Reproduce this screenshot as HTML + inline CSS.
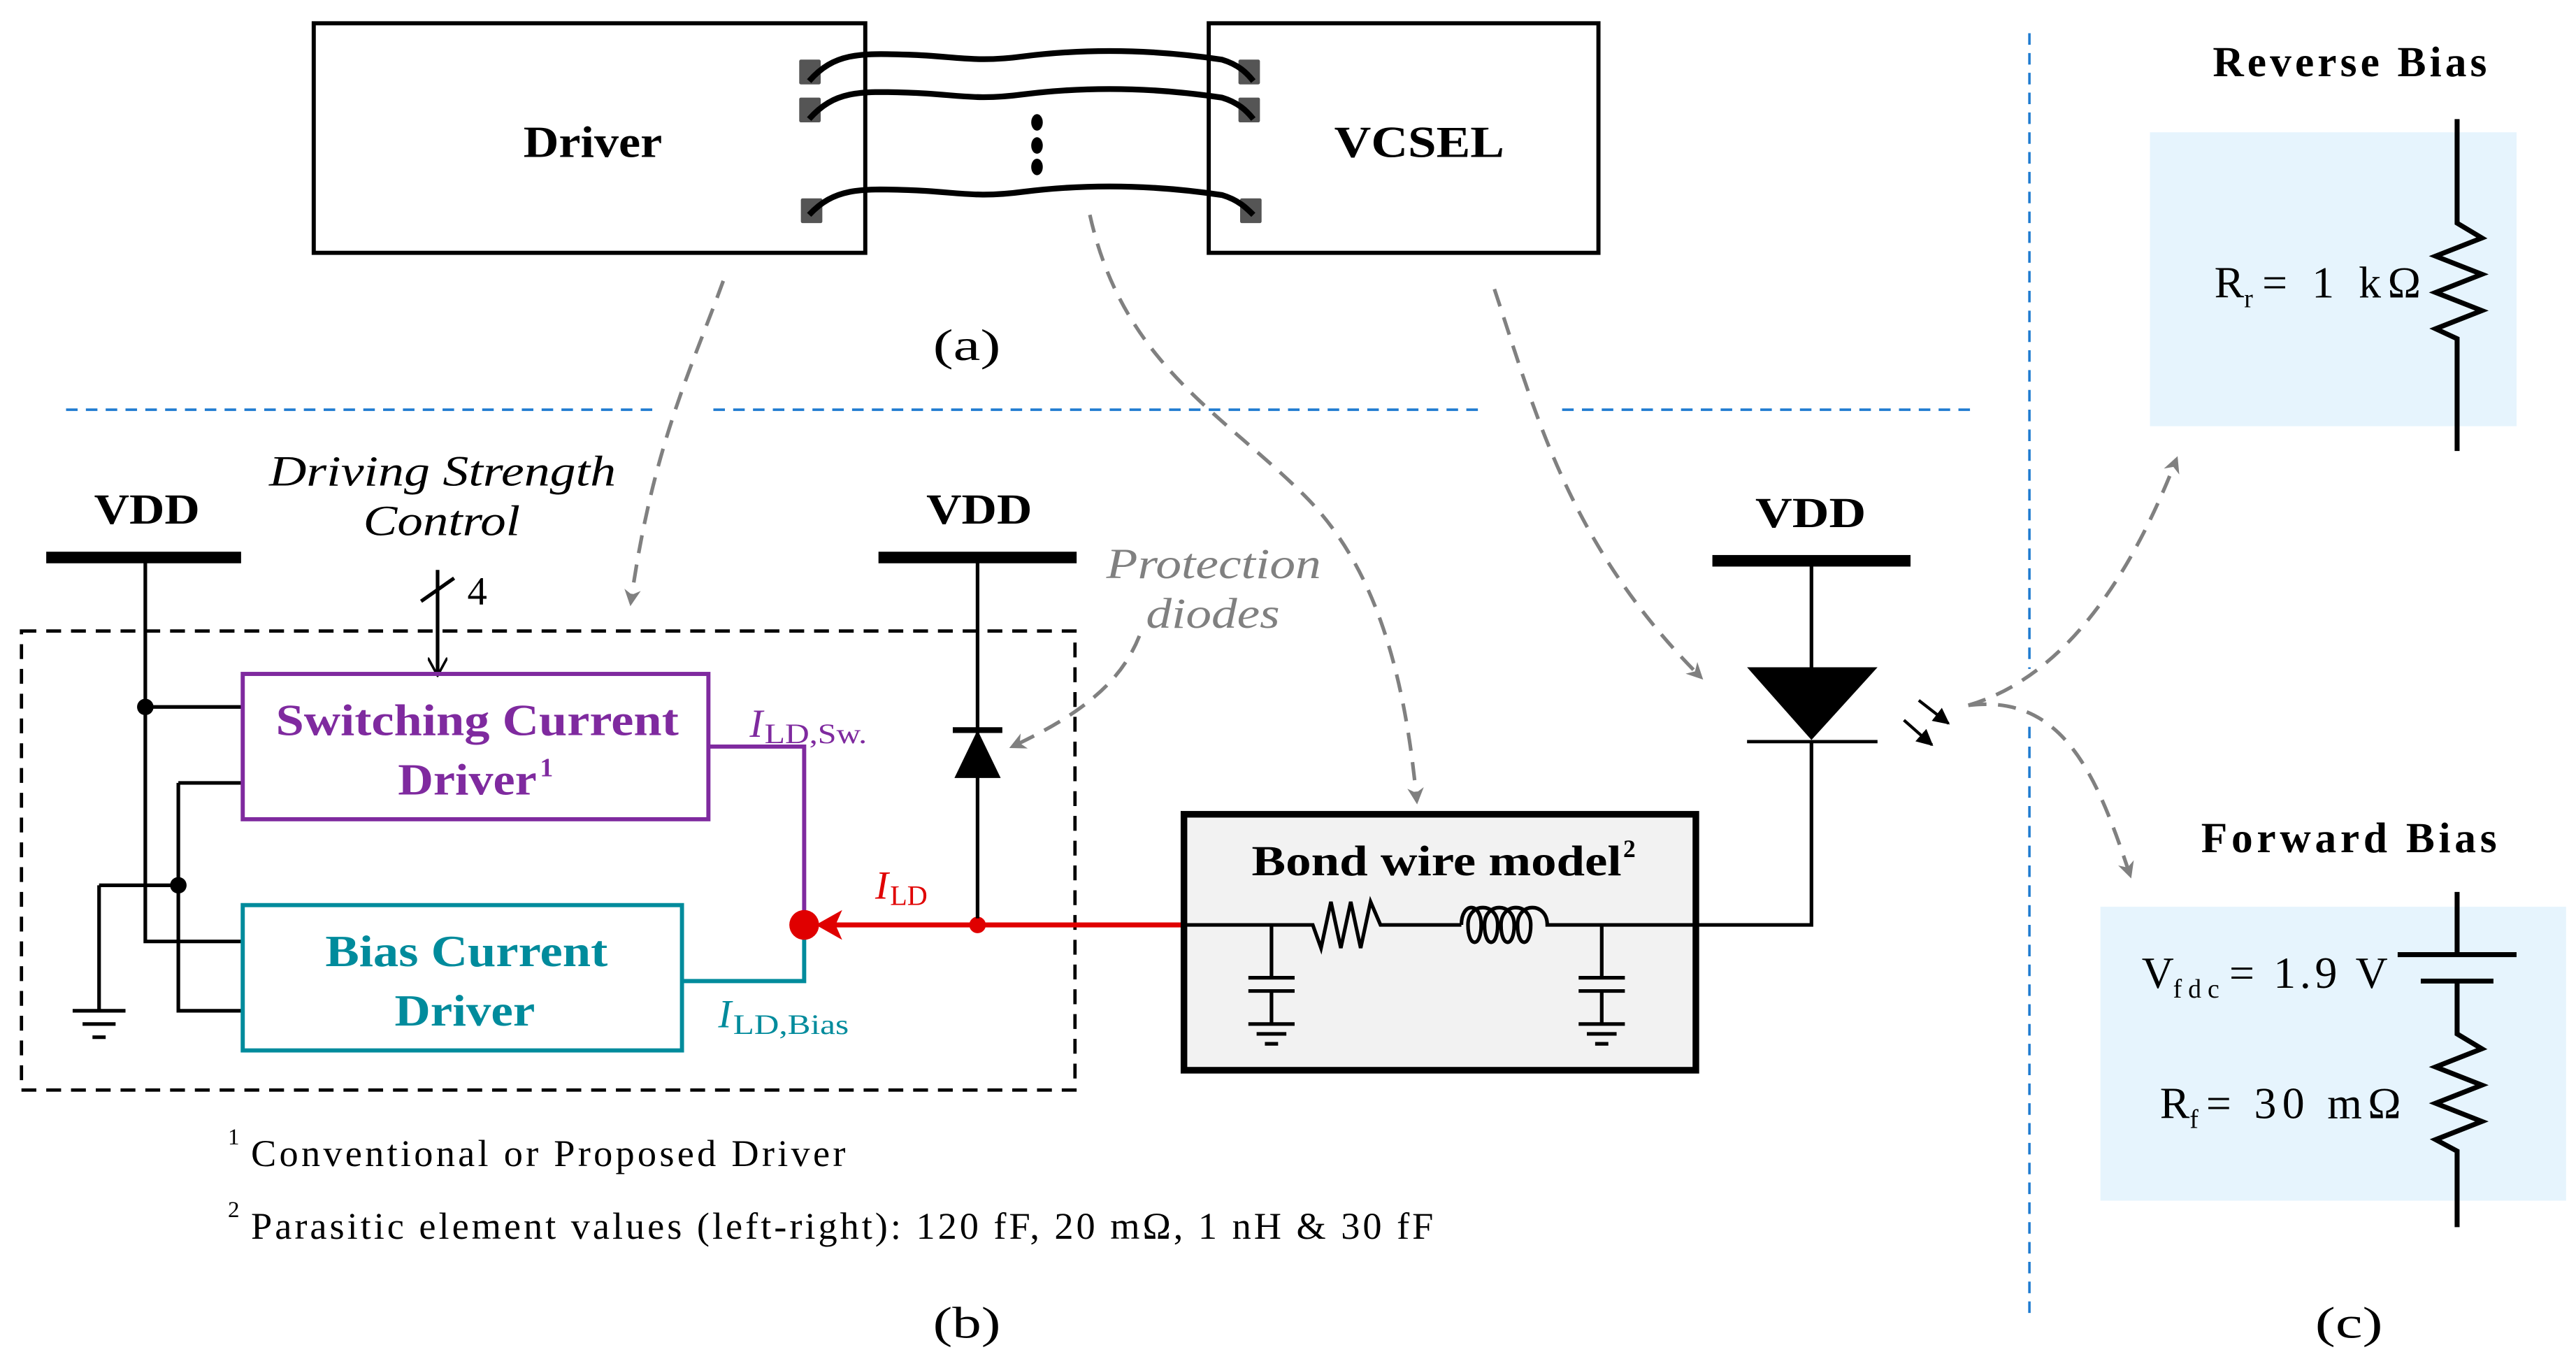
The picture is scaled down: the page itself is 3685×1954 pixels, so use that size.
<!DOCTYPE html>
<html><head><meta charset="utf-8"><style>html,body{margin:0;padding:0;background:#fff}svg{display:block}text{font-family:"Liberation Serif",serif}</style></head><body>
<svg width="3685" height="1954" viewBox="0 0 1560 827" xmlns="http://www.w3.org/2000/svg">
<defs>
<marker id="ga" markerWidth="10" markerHeight="10" refX="8" refY="5" orient="auto" markerUnits="userSpaceOnUse" viewBox="0 0 10 10"><path d="M0,0 L10,5 L0,10 L3,5 z" fill="#808080"/></marker>
<marker id="bk" markerWidth="12" markerHeight="12" refX="10" refY="6" orient="auto" markerUnits="userSpaceOnUse"><path d="M0,0 L11,6 L0,12" fill="none" stroke="#000" stroke-width="1.5"/></marker>
<marker id="fa" markerWidth="10" markerHeight="10" refX="9" refY="5" orient="auto" markerUnits="userSpaceOnUse"><path d="M0,0 L10,5 L0,10 z" fill="#000"/></marker>
</defs>
<rect x="190" y="14" width="334" height="139" fill="none" stroke="#000" stroke-width="2.5"/>
<rect x="732" y="14" width="236" height="139" fill="none" stroke="#000" stroke-width="2.5"/>
<text x="317" y="95" font-size="27" font-weight="bold" textLength="84" lengthAdjust="spacingAndGlyphs">Driver</text>
<text x="808" y="95" font-size="27" font-weight="bold" textLength="103" lengthAdjust="spacingAndGlyphs">VCSEL</text>
<g fill="#555">
<rect x="484" y="36" width="13" height="15" rx="1"/><rect x="484" y="59" width="13" height="15" rx="1"/><rect x="485" y="120" width="13" height="15" rx="1"/>
<rect x="750" y="36" width="13" height="15" rx="1"/><rect x="750" y="59" width="13" height="15" rx="1"/><rect x="751" y="120" width="13" height="15" rx="1"/>
</g>
<g fill="none" stroke="#000" stroke-width="3.5">
<path d="M490,49 C505,32 520,32 550,33 C580,34 590,38 620,34 C660,29 700,30 740,36 C750,39 755,44 759,49"/>
<path d="M490,72 C505,55 520,55 550,56 C580,57 590,61 620,57 C660,52 700,53 740,59 C750,62 755,67 759,72"/>
<path d="M490,130 C505,114 520,114 550,115 C580,116 590,120 620,116 C660,111 700,112 740,118 C750,121 755,126 759,130"/>
</g>
<ellipse cx="628" cy="74" rx="3.5" ry="5"/><ellipse cx="628" cy="88" rx="3.5" ry="5"/><ellipse cx="628" cy="101" rx="3.5" ry="5"/>
<text x="565" y="218" font-size="27" textLength="41" lengthAdjust="spacingAndGlyphs">(a)</text>
<g stroke="#1f7bd0" stroke-width="1.5" stroke-dasharray="7,5" fill="none">
<path d="M40,248 H396 M432,248 H896 M946,248 H1198"/>
<path d="M1229,20 V405 M1229,440 V800"/>
</g>
<g fill="none" stroke="#808080" stroke-width="2.2" stroke-dasharray="11,7" marker-end="url(#ga)">
<path d="M438,170 C420,220 395,270 382,365"/>
<path d="M660,130 C680,220 740,250 790,300 C830,340 850,400 858,485"/>
<path d="M905,175 C930,250 950,330 1030,410"/>
<path d="M690,385 C680,410 660,430 613,452"/>
<path d="M1192,427 C1250,410 1290,350 1318,278"/>
<path d="M1192,427 C1250,420 1270,470 1290,530"/>
</g>
<text x="57" y="317" font-size="26" font-weight="bold" textLength="64" lengthAdjust="spacingAndGlyphs">VDD</text>
<rect x="28" y="334" width="118" height="7"/>
<g stroke="#000" stroke-width="2.2" fill="none">
<path d="M88,338 V570 H147"/>
<path d="M88,428 H147"/>
<path d="M108,474 H147 M108,474 V612 H147"/>
<path d="M60,536 H108 M60,536 V612"/>
<path d="M44,612 H76 M50,620 H70 M56,628 H64"/>
<path d="M265,345 V408" marker-end="url(#bk)"/>
<path d="M255,364 L275,350"/>
</g>
<circle cx="88" cy="428" r="5"/><circle cx="108" cy="536" r="5"/>
<text x="283" y="366" font-size="24">4</text>
<text x="163" y="294" font-size="26" font-style="italic" textLength="210" lengthAdjust="spacingAndGlyphs">Driving Strength</text>
<text x="220" y="324" font-size="26" font-style="italic" textLength="95" lengthAdjust="spacingAndGlyphs">Control</text>
<rect x="13" y="382" width="638" height="278" fill="none" stroke="#000" stroke-width="2" stroke-dasharray="9,6"/>
<rect x="147" y="408" width="282" height="88" fill="none" stroke="#7f2a9f" stroke-width="2.5"/>
<text x="167" y="445" font-size="27" font-weight="bold" fill="#7f2a9f" textLength="244" lengthAdjust="spacingAndGlyphs">Switching Current</text>
<text x="241" y="481" font-size="27" font-weight="bold" fill="#7f2a9f" textLength="84" lengthAdjust="spacingAndGlyphs">Driver</text>
<text x="327" y="470" font-size="16" font-weight="bold" fill="#7f2a9f">1</text>
<rect x="147" y="548" width="266" height="88" fill="none" stroke="#008b9c" stroke-width="2.5"/>
<text x="197" y="585" font-size="27" font-weight="bold" fill="#008b9c" textLength="171" lengthAdjust="spacingAndGlyphs">Bias Current</text>
<text x="239" y="621" font-size="27" font-weight="bold" fill="#008b9c" textLength="85" lengthAdjust="spacingAndGlyphs">Driver</text>
<path d="M429,452 H487 V560" stroke="#7f2a9f" stroke-width="2.5" fill="none"/>
<path d="M413,594 H487 V560" stroke="#008b9c" stroke-width="2.5" fill="none"/>
<text x="454" y="446" font-size="24" font-style="italic" fill="#7f2a9f">I</text>
<text x="463" y="450" font-size="17" fill="#7f2a9f" textLength="62" lengthAdjust="spacingAndGlyphs">LD,Sw.</text>
<text x="435" y="622" font-size="24" font-style="italic" fill="#008b9c">I</text>
<text x="444" y="626" font-size="17" fill="#008b9c" textLength="70" lengthAdjust="spacingAndGlyphs">LD,Bias</text>
<text x="530" y="544" font-size="24" font-style="italic" fill="#e00000">I</text>
<text x="539" y="548" font-size="17" fill="#e00000">LD</text>
<path d="M718,560 H500" stroke="#e00000" stroke-width="3"/>
<path d="M494,560 L510,551 L506,560 L510,569 z" fill="#e00000"/>
<circle cx="487" cy="560" r="9" fill="#e00000"/>
<circle cx="592" cy="560" r="5" fill="#e00000"/>
<text x="561" y="317" font-size="26" font-weight="bold" textLength="64" lengthAdjust="spacingAndGlyphs">VDD</text>
<rect x="532" y="334" width="120" height="7"/>
<path d="M592,338 V556" stroke="#000" stroke-width="2.2"/>
<path d="M578,471 L606,471 L592,442 z"/>
<path d="M577,442 H607" stroke="#000" stroke-width="3.5"/>
<text x="670" y="350" font-size="26" font-style="italic" fill="#808080" textLength="130" lengthAdjust="spacingAndGlyphs">Protection</text>
<text x="694" y="380" font-size="26" font-style="italic" fill="#808080" textLength="81" lengthAdjust="spacingAndGlyphs">diodes</text>
<rect x="717" y="493" width="310" height="155" fill="#f2f2f2" stroke="#000" stroke-width="4"/>
<text x="758" y="530" font-size="26" font-weight="bold" textLength="224" lengthAdjust="spacingAndGlyphs">Bond wire model</text>
<text x="983" y="519" font-size="15" font-weight="bold">2</text>
<g stroke="#000" stroke-width="2.2" fill="none">
<path d="M717,560 H795 L800,574 L806,546 L812,574 L818,546 L824,574 L830,546 L836,560 H885"/>
<path d="M885,560 C885,546 897,546 897,560 C897,574 889,574 889,560 C889,546 907,546 907,560 C907,574 899,574 899,560 C899,546 917,546 917,560 C917,574 909,574 909,560 C909,546 927,546 927,560 C927,574 919,574 919,560 C919,546 937,546 937,560 H1027"/>
<path d="M770,560 V592 M756,592 H784 M756,600 H784 M770,600 V620 M756,620 H784 M761,626 H779 M766,632 H774"/>
<path d="M970,560 V592 M956,592 H984 M956,600 H984 M970,600 V620 M956,620 H984 M961,626 H979 M966,632 H974"/>
</g>
<text x="1063" y="319" font-size="26" font-weight="bold" textLength="67" lengthAdjust="spacingAndGlyphs">VDD</text>
<rect x="1037" y="336" width="120" height="7"/>
<path d="M1097,340 V405 M1097,448 V560 H1027" stroke="#000" stroke-width="2.2" fill="none"/>
<path d="M1058,404 L1137,404 L1097,448 z"/>
<path d="M1058,449 H1137" stroke="#000" stroke-width="2"/>
<g stroke="#000" stroke-width="1.8" marker-end="url(#fa)">
<path d="M1162,424 L1180,438"/><path d="M1153,436 L1170,451"/>
</g>
<text x="138" y="693" font-size="14">1</text>
<text x="152" y="706" font-size="23" textLength="360" lengthAdjust="spacing">Conventional or Proposed Driver</text>
<text x="138" y="737" font-size="14">2</text>
<text x="152" y="750" font-size="23" textLength="716" lengthAdjust="spacing">Parasitic element values (left-right): 120 fF, 20 mΩ, 1 nH &amp; 30 fF</text>
<text x="565" y="810" font-size="27" textLength="41" lengthAdjust="spacingAndGlyphs">(b)</text>
<text x="1340" y="46" font-size="26" font-weight="bold" textLength="166" lengthAdjust="spacing">Reverse Bias</text>
<rect x="1302" y="80" width="222" height="178" fill="#e6f4fd"/>
<path d="M1488,72 V135 L1503,144 L1475,155 L1503,166 L1475,177 L1503,188 L1475,199 L1488,205 V273" stroke="#000" stroke-width="3" fill="none"/>
<text x="1341" y="180" font-size="27">R</text><text x="1359" y="186" font-size="16">r</text>
<text x="1370" y="180" font-size="27" textLength="96" lengthAdjust="spacing">= 1 kΩ</text>
<text x="1333" y="516" font-size="26" font-weight="bold" textLength="179" lengthAdjust="spacing">Forward Bias</text>
<rect x="1272" y="549" width="282" height="178" fill="#e6f4fd"/>
<path d="M1488,540 V578 M1452,578 H1524 M1466,594 H1510 M1488,594 V626 L1503,635 L1475,646 L1503,657 L1475,668 L1503,679 L1475,690 L1488,697 V743" stroke="#000" stroke-width="3" fill="none"/>
<text x="1297" y="598" font-size="27">V</text><text x="1316" y="604" font-size="16" textLength="28" lengthAdjust="spacing">fdc</text>
<text x="1350" y="598" font-size="27" textLength="96" lengthAdjust="spacing">= 1.9 V</text>
<text x="1308" y="677" font-size="27">R</text><text x="1326" y="683" font-size="16">f</text>
<text x="1336" y="677" font-size="27" textLength="118" lengthAdjust="spacing">= 30 mΩ</text>
<text x="1402" y="810" font-size="27" textLength="41" lengthAdjust="spacingAndGlyphs">(c)</text>
</svg>
</body></html>
